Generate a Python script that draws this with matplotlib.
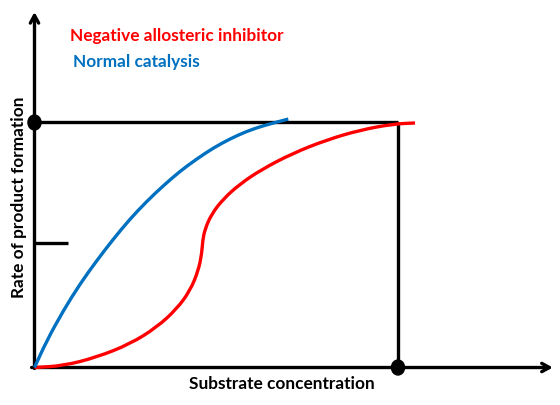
import numpy as np
import matplotlib
matplotlib.use("Agg")
import matplotlib.pyplot as plt
from matplotlib.path import Path
from matplotlib.patches import PathPatch, Ellipse

# data (substrate in arbitrary units, rate as fraction of Vmax)
normal_x = [0, 0.336, 0.792, 1.252, 1.711, 2.168, 2.627, 3.087, 3.543, 4.003, 4.462,
            4.919, 5.378, 5.838, 6.294, 6.754, 6.982]
normal_y = [0, 0.109, 0.232, 0.341, 0.436, 0.524, 0.606, 0.678, 0.742, 0.801, 0.851,
            0.896, 0.933, 0.964, 0.987, 1.005, 1.014]

inhib_x = [0, 0.792, 1.711, 2.627, 3.362, 3.912, 4.278, 4.506, 4.600, 4.627, 4.690,
           4.875, 5.194, 5.653, 6.245, 7.100, 8.039, 8.955, 9.871, 10.468]
inhib_y = [0, 0.007, 0.042, 0.096, 0.164, 0.239, 0.313, 0.395, 0.463, 0.518, 0.565,
           0.627, 0.688, 0.749, 0.808, 0.874, 0.929, 0.969, 0.994, 0.998]

vmax = 1.0
half_vmax = 0.508
s_at_vmax = 10.0

labels = ["Negative allosteric inhibitor", "Normal catalysis"]
xlabel = "Substrate concentration"
ylabel = "Rate of product formation"

RED = "#FF0000"
BLUE = "#0070C0"
FONT = ["Lato", "DejaVu Sans"]


def smooth_path(xs, ys):
    # quadratic bezier through midpoints, control points at the read points
    pts = np.column_stack([xs, ys])
    verts = [pts[0]]
    codes = [Path.MOVETO]
    mids = (pts[:-1] + pts[1:]) / 2
    verts.append(mids[0]); codes.append(Path.LINETO)
    for i in range(1, len(pts) - 1):
        verts += [pts[i], mids[i]]
        codes += [Path.CURVE3, Path.CURVE3]
    verts.append(pts[-1]); codes.append(Path.LINETO)
    return Path(verts, codes)


fig = plt.figure(figsize=(5.6, 4.06), dpi=100)
ax = fig.add_axes([0, 0, 1, 1])
ax.set_xlim(-0.949, 14.457)
ax.set_ylim(-0.153, 1.504)
ax.axis("off")

# axes with arrows
arrow = dict(arrowstyle="->,head_length=0.55,head_width=0.3", lw=2.4, color="black",
             shrinkA=0, shrinkB=0)
ax.annotate("", xy=(14.26, 0), xytext=(-0.08, 0), arrowprops=arrow)
ax.annotate("", xy=(0, 1.451), xytext=(0, -0.004), arrowprops=arrow)

# Vmax guide lines
ax.plot([0, s_at_vmax], [vmax, vmax], color="black", lw=2.4, solid_capstyle="butt")
ax.plot([s_at_vmax, s_at_vmax], [vmax, 0], color="black", lw=2.4, solid_capstyle="butt")
ax.plot([0, 0.92], [half_vmax, half_vmax], color="black", lw=2.4, solid_capstyle="butt")

# curves
ax.add_patch(PathPatch(smooth_path(inhib_x, inhib_y), fill=False, edgecolor=RED, lw=2.4,
                       capstyle="butt", zorder=3))
ax.add_patch(PathPatch(smooth_path(normal_x, normal_y), fill=False, edgecolor=BLUE, lw=2.4,
                       capstyle="butt", zorder=3))

# dots
ax.add_patch(Ellipse((0, vmax), 0.36, 0.061, color="black", zorder=4))
ax.add_patch(Ellipse((s_at_vmax, 0), 0.36, 0.061, color="black", zorder=4))

ax.text(0.98, 1.357, labels[0], color=RED, fontsize=12.4, fontweight="bold",
        family=FONT, ha="left", va="center")
ax.text(1.06, 1.251, labels[1], color=BLUE, fontsize=12.4, fontweight="bold",
        family=FONT, ha="left", va="center")
ax.text(6.81, -0.063, xlabel, color="black", fontsize=12.4, fontweight="bold",
        family=FONT, ha="center", va="center")
ax.text(-0.43, 0.70, ylabel, color="black", fontsize=12.4, fontweight="bold",
        family=FONT, ha="center", va="center", rotation=90)

fig.savefig("out.png", dpi=100)
